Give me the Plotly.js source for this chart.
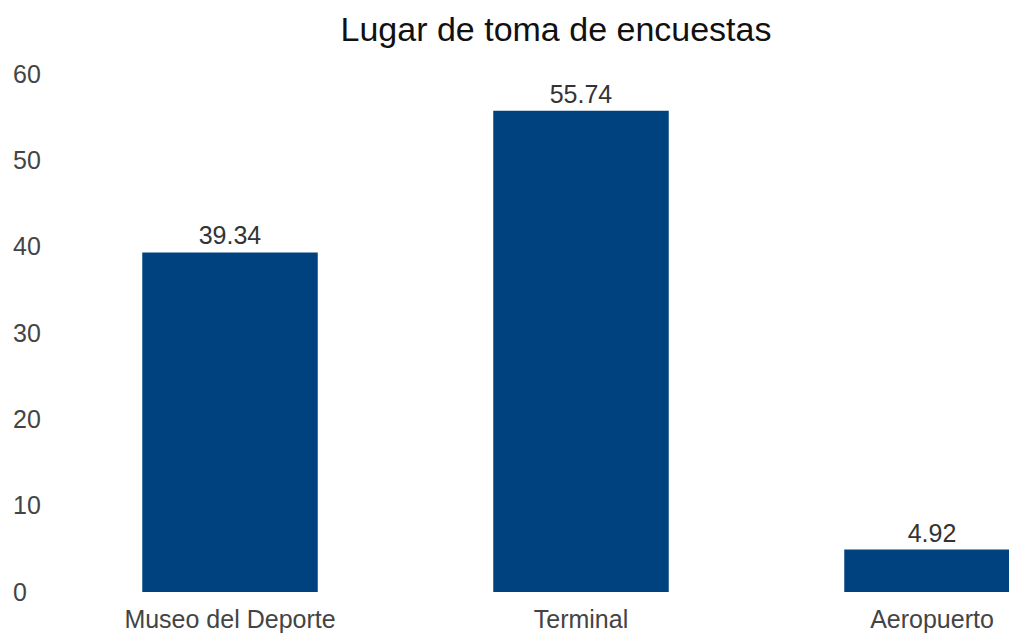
<!DOCTYPE html>
<html><head><meta charset="utf-8">
<script src="https://cdn.plot.ly/plotly-3.0.1.min.js"></script>
<style>html,body{margin:0;padding:0;background:#fff}</style>
</head><body>
<div id="chart" style="width:1009px;height:639px"></div>
<script>
const categories = ["Museo del Deporte", "Terminal", "Aeropuerto"];
const values = [39.34, 55.74, 4.92];
const labels = ["39.34", "55.74", "4.92"];
const yTicks = [0, 10, 20, 30, 40, 50, 60];

const FONT = "Liberation Sans, Arial, sans-serif";
const pxPerUnit = 8.633;
const zeroY = 592, plotTop = 40, plotBottom = 602;

const trace = {
  type: "bar",
  x: [0, 1, 2],
  y: values,
  width: 0.5,
  text: labels,
  textposition: "outside",
  cliponaxis: true,
  textfont: {family: FONT, size: 25, color: "#333"},
  marker: {color: "#00427f"},
  hoverinfo: "none"
};

const layout = {
  width: 1009, height: 639,
  margin: {l: 8, r: 0, t: plotTop, b: 639 - plotBottom},
  paper_bgcolor: "#fff", plot_bgcolor: "#fff",
  showlegend: false,
  title: {text: "Lugar de toma de encuestas", x: 556 / 1009, xanchor: "center", y: 0.955, yanchor: "middle",
          font: {family: FONT, size: 34, color: "#111"}},
  xaxis: {
    range: [(8 - 230) / 351, (1009 - 230) / 351],
    tickmode: "array", tickvals: [0, 1, 2], ticktext: categories,
    showgrid: false, zeroline: false, showline: false, ticks: "",
    ticklabelstandoff: 0,
    tickfont: {family: FONT, size: 25, color: "#444"}
  },
  yaxis: {
    range: [-(plotBottom - zeroY) / pxPerUnit, (zeroY - plotTop) / pxPerUnit],
    tickmode: "array", tickvals: yTicks, ticktext: yTicks.map(String),
    showgrid: false, zeroline: false, showline: false, ticks: "",
    ticklabelposition: "inside",
    ticklabeloverflow: "allow",
    ticklabelstandoff: 2,
    tickfont: {family: FONT, size: 25, color: "#444"}
  }
};

Plotly.newPlot("chart", [trace], layout, {displayModeBar: false, staticPlot: true});
</script>
</body></html>
